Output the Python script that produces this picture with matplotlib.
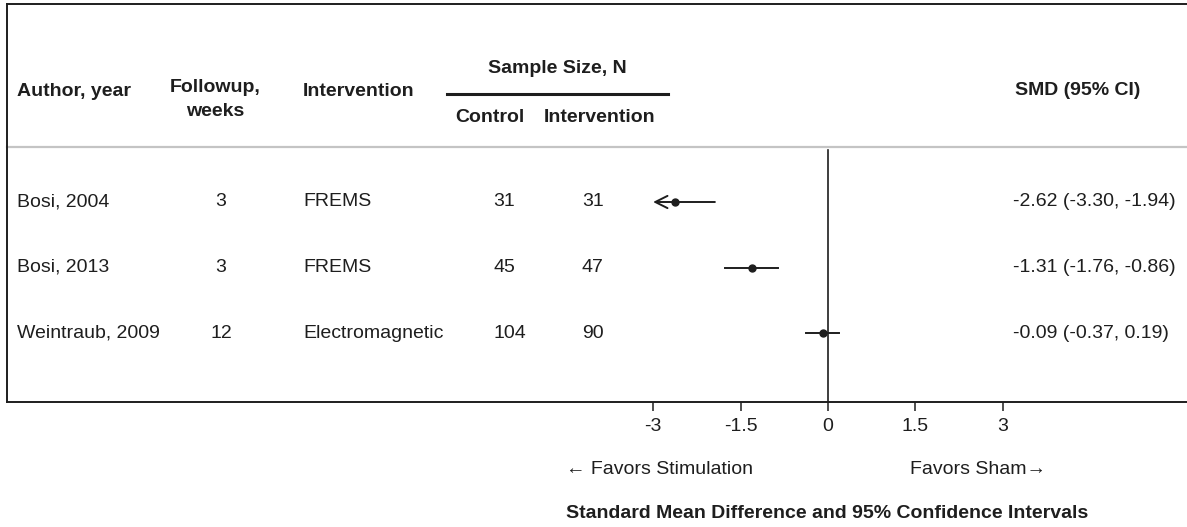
import matplotlib; matplotlib.use("Agg")
import matplotlib.pyplot as plt
from matplotlib.lines import Line2D
from matplotlib.transforms import blended_transform_factory

# study table + effect sizes
authors = ["Bosi, 2004", "Bosi, 2013", "Weintraub, 2009"]
followup = [3, 3, 12]
intervention = ["FREMS", "FREMS", "Electromagnetic"]
n_control = [31, 45, 104]
n_interv = [31, 47, 90]
smd = [-2.62, -1.31, -0.09]
ci_lo = [-3.30, -1.76, -0.37]
ci_hi = [-1.94, -0.86, 0.19]
ticks = [-3, -1.5, 0, 1.5, 3]
tick_labels = ["-3", "-1.5", "0", "1.5", "3"]

plt.rcParams["font.family"] = ["Liberation Sans", "DejaVu Sans"]
INK = "#1e1e1e"; FS = 14
W, H = 1187, 527
fx = lambda px: px / W
fy = lambda py: 1 - py / H

fig = plt.figure(figsize=(W / 100, H / 100), dpi=100)
ax = fig.add_axes([fx(7), fy(402), 1 - fx(7), (402 - 4) / H])
PX = 58.3  # pixels per SMD unit
ax.set_xlim((7 - 828) / PX, (W - 828) / PX)
ROW = 65.5
ax.set_ylim((402 - 202) / ROW, (4 - 202) / ROW)

for s in ["top", "left", "bottom"]:
    ax.spines[s].set_linewidth(1.4); ax.spines[s].set_color(INK)
ax.spines["right"].set_visible(False)
ax.set_yticks([])
ax.set_xticks(ticks); ax.set_xticklabels(tick_labels)
ax.tick_params(axis="x", direction="out", length=6.5, width=1.1, pad=5,
               labelsize=FS, colors=INK)

# header separator + zero line
sep = (402 - 147) / (402 - 4)
ax.plot([0, 1], [sep, sep], transform=ax.transAxes, color="#c4c4c4", lw=1.6, clip_on=False)
ax.axvline(0, ymin=0, ymax=(402 - 150) / (402 - 4), color=INK, lw=1.2)

# forest marks, clipped at -3 with an arrow
XMIN = -3
for i in range(len(smd)):
    if ci_lo[i] < XMIN:
        ax.annotate("", xy=(XMIN, i), xytext=(ci_hi[i], i),
                    arrowprops=dict(arrowstyle="->", lw=1.4, color=INK,
                                    mutation_scale=22, shrinkA=0, shrinkB=0))
    else:
        ax.plot([ci_lo[i], ci_hi[i]], [i, i], color=INK, lw=1.4)
    ax.plot(smd[i], i, marker="o", ms=5, color=INK)

# table text
tr = blended_transform_factory(fig.transFigure, ax.transData)
for i in range(len(authors)):
    kw = dict(transform=tr, va="center", fontsize=FS, color=INK)
    ax.text(fx(17), i, authors[i], ha="left", **kw)
    ax.text(fx(221), i, str(followup[i]), ha="center", **kw)
    ax.text(fx(303), i, intervention[i], ha="left", **kw)
    ax.text(fx(493), i, str(n_control[i]), ha="left", **kw)
    ax.text(fx(582), i, str(n_interv[i]), ha="left", **kw)
    ax.text(fx(1013), i, f"{smd[i]:.2f} ({ci_lo[i]:.2f}, {ci_hi[i]:.2f})", ha="left", **kw)

hb = dict(fontsize=FS, fontweight="bold", color=INK, va="center")
fig.text(fx(17), fy(92), "Author, year", ha="left", **hb)
fig.text(fx(215), fy(88), "Followup,", ha="center", **hb)
fig.text(fx(215), fy(112), "weeks", ha="center", **hb)
fig.text(fx(303), fy(92), "Intervention", ha="left", **hb)
fig.text(fx(557), fy(69), "Sample Size, N", ha="center", **hb)
fig.text(fx(490), fy(117), "Control", ha="center", **hb)
fig.text(fx(600), fy(117), "Intervention", ha="center", **hb)
fig.text(fx(1015), fy(91), "SMD (95% CI)", ha="left", **hb)
fig.add_artist(Line2D([fx(447), fx(668)], [fy(94), fy(94)], lw=2.2, color=INK))

fig.text(fx(566), fy(469), "\u2190 Favors Stimulation", ha="left", va="center", fontsize=FS, color=INK)
fig.text(fx(910), fy(469), "Favors Sham\u2192", ha="left", va="center", fontsize=FS, color=INK)
fig.text(fx(566), fy(514), "Standard Mean Difference and 95% Confidence Intervals",
         ha="left", va="center", fontsize=FS, fontweight="bold", color=INK)

fig.savefig("out.png", dpi=100)
